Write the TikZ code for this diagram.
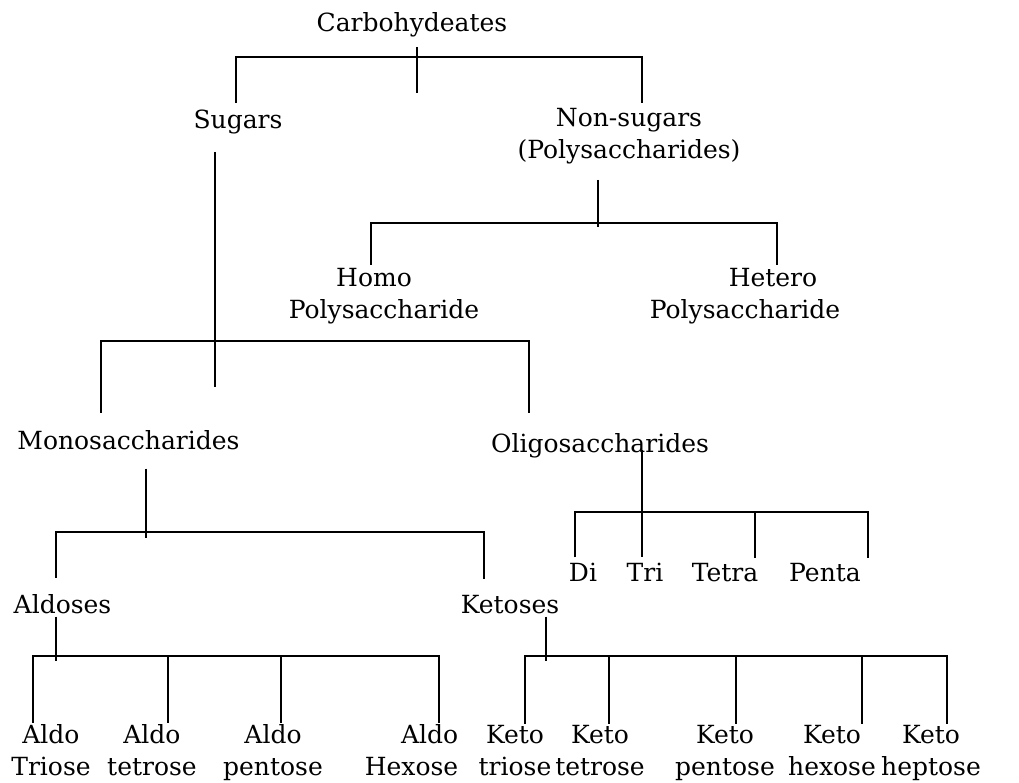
\documentclass[tikz,border=0pt]{standalone}
\usepackage{fontspec}
\setmainfont{DejaVu Serif}
\tikzstyle{word} = [inner sep=0pt, anchor=base, align=center,
font=\fontsize{25}{32}\selectfont]
\tikzstyle{link} = [line width=2pt]

\begin{document}
\begin{tikzpicture}[x=1pt, y=-1pt]
		\useasboundingbox (0,0) rectangle (1019,782);
		% names of the classes (base = last line)
		\node (carb) [word] at (412,31) {Carbohydeates};
		\node (sugars) [word] at (238,128) {Sugars};
		\node (nonsug) [word] at (629,158) {Non-sugars\\(Polysaccharides)};
		\node (homo) [word] at (384,318) {Homo\hspace*{20pt}\\Polysaccharide};
		\node (hetero) [word] at (745,318) {\hspace*{56pt}Hetero\\Polysaccharide};
		\node (mono) [word] at (128.5,449) {Monosaccharides};
		\node (oligo) [word] at (600,452) {Oligosaccharides};
		\node (di) [word] at (583,581) {Di};
		\node (tri) [word] at (645,581) {Tri};
		\node (tetra) [word] at (725,581) {Tetra};
		\node (penta) [word] at (825,581) {Penta};
		\node (aldoses) [word] at (62.5,613) {Aldoses};
		\node (ketoses) [word] at (510,613) {Ketoses};
		\node (aldo1) [word] at (51,775) {Aldo\\Triose};
		\node (aldo2) [word] at (152,775) {Aldo\\tetrose};
		\node (aldo3) [word] at (273,775) {Aldo\\pentose};
		\node (aldo4) [word, align=right] at (411.5,775) {Aldo\\Hexose};
		\node (keto1) [word] at (515,775) {Keto\\triose};
		\node (keto2) [word] at (600,775) {Keto\\tetrose};
		\node (keto3) [word] at (725,775) {Keto\\pentose};
		\node (keto4) [word] at (832,775) {Keto\\hexose};
		\node (keto5) [word] at (931,775) {Keto\\heptose};
		
		% where the stems meet the bars
		\coordinate (cj) at (417,57);
		\coordinate (nj) at (598,223);
		\coordinate (sj) at (215,341);
		\coordinate (mj) at (146,532);
		\coordinate (oj) at (642,512);
		\coordinate (aj) at (56,656);
		\coordinate (kj) at (546,656);
		
		% carbohydeates
		\draw [link, shorten <=10pt] (carb.south -| cj) -- ([yshift=-36pt]cj);
		\draw [link, shorten <=6pt] ([xshift=-2pt]sugars.north) |- (cj);
		\draw [link, shorten <=5pt] ([xshift=13pt]nonsug.north) |- (cj);
		
		% non-sugars
		\draw [link, shorten <=16pt] (nonsug.south -| nj) -- ([yshift=-4pt]nj);
		\draw [link, shorten <=3pt] ([xshift=-13pt]homo.north) |- (nj);
		\draw [link, shorten <=3pt] ([xshift=32pt]hetero.north) |- (nj);
		
		% sugars
		\draw [link, shorten <=18pt] (sugars.south -| sj) -- ([yshift=-46pt]sj);
		\draw [link, shorten <=17pt] ([xshift=-27.5pt]mono.north) |- (sj);
		\draw [link, shorten <=20pt] ([xshift=-71pt]oligo.north) |- (sj);
		
		% monosaccharides
		\draw [link, shorten <=19pt] (mono.south -| mj) -- ([yshift=-6pt]mj);
		\draw [link, shorten <=16pt] ([xshift=-6.5pt]aldoses.north) |- (mj);
		\draw [link, shorten <=16pt] ([xshift=-26pt]ketoses.north) |- (mj);
		
		% oligosaccharides
		\draw [link, shorten <=-2pt, shorten >=5pt] ([xshift=42pt]oligo.base) -- ([xshift=-3pt]tri.north);
		\draw [link, shorten <=5pt] ([xshift=-8pt]di.north) |- (oj);
		\draw [link, shorten <=5pt] ([xshift=30pt]tetra.north) |- (oj);
		\draw [link, shorten <=5pt] ([xshift=43pt]penta.north) |- (oj);
		
		% aldoses
		\draw [link, shorten <=3pt] (aldoses.south -| aj) -- ([yshift=-5pt]aj);
		\draw [link, shorten <=1pt] ([xshift=-18pt]aldo1.north) |- (aj);
		\draw [link, shorten <=1pt] ([xshift=16pt]aldo2.north) |- (aj);
		\draw [link, shorten <=1pt] ([xshift=8pt]aldo3.north) |- (aj);
		\draw [link, shorten <=1pt] ([xshift=27.5pt]aldo4.north) |- (aj);
		
		% ketoses
		\draw [link, shorten <=3pt] (ketoses.south -| kj) -- ([yshift=-5pt]kj);
		\draw [link, shorten <=1pt] ([xshift=10pt]keto1.north) |- (kj);
		\draw [link, shorten <=1pt] ([xshift=9pt]keto2.north) |- (kj);
		\draw [link, shorten <=1pt] ([xshift=11pt]keto3.north) |- (kj);
		\draw [link, shorten <=1pt] ([xshift=30pt]keto4.north) |- (kj);
		\draw [link, shorten <=1pt] ([xshift=16pt]keto5.north) |- (kj);
	\end{tikzpicture}
\end{document}
